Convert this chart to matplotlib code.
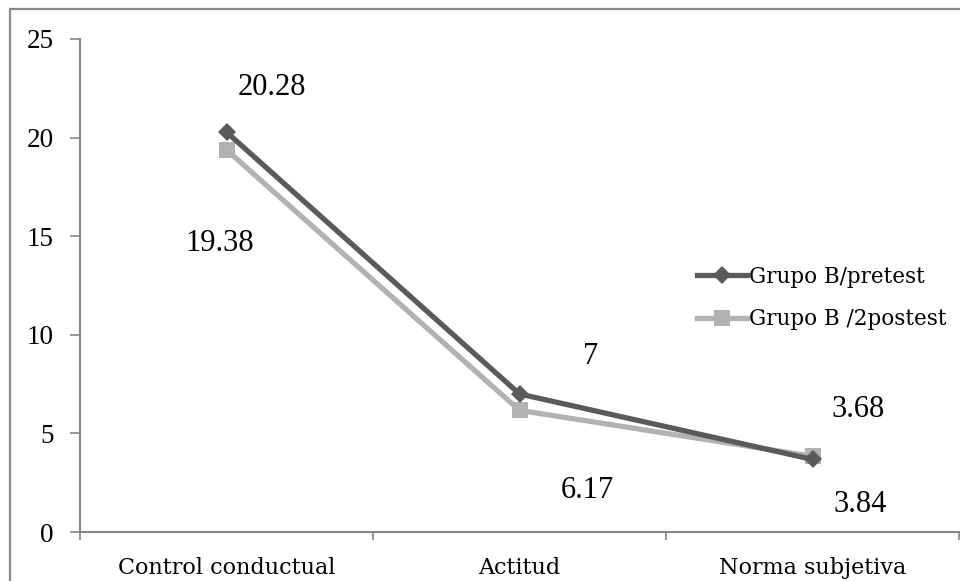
import matplotlib
matplotlib.use("Agg")
import matplotlib.pyplot as plt
from matplotlib.patches import Rectangle

categories = ["Control conductual", "Actitud", "Norma subjetiva"]
pretest = [20.28, 7, 3.68]
postest = [19.38, 6.17, 3.84]
series_names = ["Grupo B/pretest", "Grupo B /2postest"]
y_ticks = [0, 5, 10, 15, 20, 25]

# label offsets (pixels, y upward) relative to each point
pre_offsets = [(45, 45), (71, 37), (46, 50)]
post_offsets = [(-7, -94), (68, -80), (48, -48)]

W, H = 960, 581
fig = plt.figure(figsize=(W / 100, H / 100), dpi=100)
fig.patch.set_facecolor("white")

# outer chart frame
fig.add_artist(Rectangle((10 / W, -0.1), 1.2, 1 - 8.5 / H + 0.1,
                         transform=fig.transFigure, fill=False,
                         edgecolor="#898989", linewidth=1.6))

ax = fig.add_axes([80 / W, 1 - 532 / H, (959 - 80) / W, (532 - 39) / H])
ax.set_facecolor("none")

dark = "#5a5a5a"
light = "#b2b2b2"
x = list(range(len(categories)))

l1, = ax.plot(x, pretest, color=dark, lw=3.8, marker="D", ms=9.5,
              markeredgewidth=0, zorder=3, label=series_names[0])
l2, = ax.plot(x, postest, color=light, lw=3.8, marker="s", ms=12,
              markeredgewidth=0, zorder=2, label=series_names[1])

label_font = dict(family="Liberation Serif", fontsize=22, color="black")
for xi, v, off in zip(x, pretest, pre_offsets):
    ax.annotate(f"{v:g}", (xi, v), xytext=off, textcoords="offset pixels",
                ha="center", va="center", **label_font)
for xi, v, off in zip(x, postest, post_offsets):
    ax.annotate(f"{v:g}", (xi, v), xytext=off, textcoords="offset pixels",
                ha="center", va="center", **label_font)

ax.set_ylim(0, 25)
ax.set_xlim(-0.5, len(categories) - 0.5)
ax.set_yticks(y_ticks)
ax.set_yticklabels([str(t) for t in y_ticks], family="Liberation Serif",
                   fontsize=19.5, color="black")

ax.set_xticks(x)
ax.set_xticklabels(categories, family="DejaVu Serif", fontsize=16)
ax.set_xticks([i - 0.5 for i in range(len(categories) + 1)], minor=True)
ax.tick_params(axis="x", which="major", length=0, pad=18)
ax.tick_params(axis="x", which="minor", length=6, width=1.2, color="#868686")
ax.tick_params(axis="y", length=7, width=1.2, color="#868686", pad=12)

for s in ("top", "right"):
    ax.spines[s].set_visible(False)
for s in ("left", "bottom"):
    ax.spines[s].set_color("#868686")
    ax.spines[s].set_linewidth(1.5)

leg = ax.legend(handles=[l1, l2], loc="center left",
                bbox_to_anchor=((697 - 80) / (959 - 80), (532 - 298) / (532 - 39)),
                frameon=False, prop=dict(family="DejaVu Serif", size=15.5),
                handlelength=2.3, handletextpad=0.12, labelspacing=0.95,
                borderaxespad=0, borderpad=0)

fig.savefig("out.png", dpi=100)
